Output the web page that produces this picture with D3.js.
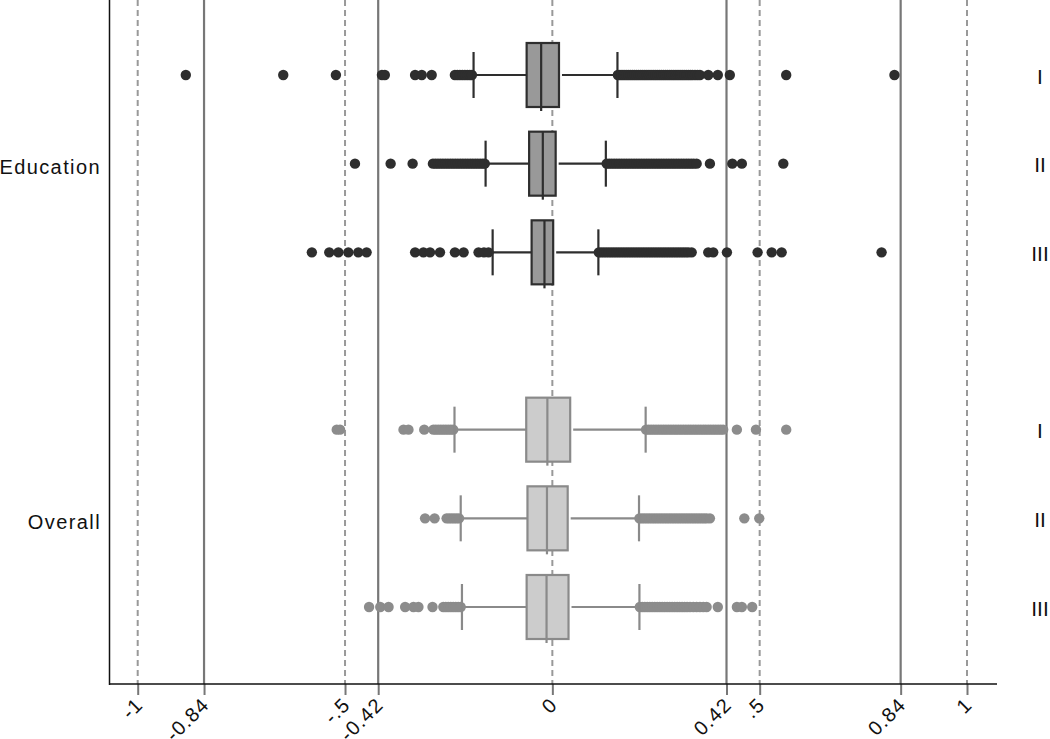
<!DOCTYPE html>
<html>
<head>
<meta charset="utf-8">
<script src="https://cdn.jsdelivr.net/npm/d3@7"></script>
<style>
  html, body { margin: 0; padding: 0; background: #fff; }
  svg { display: block; font-family: "Liberation Sans", Arial, sans-serif; }
</style>
</head>
<body>
<div id="chart"></div>
<script>
// ---------------- data ----------------
const groups = ["Education", "Overall"];
const subgroups = ["I", "II", "III"];
const slots = [0, 1, 2, 4, 5, 6];            // row slot of each box (slot 3 is the gap)
const boxGroup = [0, 0, 0, 1, 1, 1];
const boxLabel = ["I", "II", "III", "I", "II", "III"];

const whiskerLow  = [-0.190, -0.161, -0.144, -0.236, -0.221, -0.218];
const q1          = [-0.062, -0.056, -0.050, -0.063, -0.060, -0.062];
const median      = [-0.027, -0.023, -0.019, -0.012, -0.013, -0.014];
const q3          = [ 0.016,  0.008,  0.002,  0.043,  0.037,  0.039];
const whiskerHigh = [ 0.157,  0.129,  0.111,  0.225,  0.209,  0.210];

const outliersEduI = [-0.884, -0.649, -0.522, -0.411, -0.404, -0.331, -0.315, -0.291,
  -0.235, -0.229, -0.223, -0.217, -0.211, -0.205, -0.199, -0.194,
  0.158, 0.163, 0.168, 0.173, 0.178, 0.183, 0.188, 0.193, 0.198, 0.203, 0.208, 0.213,
  0.218, 0.223, 0.228, 0.233, 0.238, 0.243, 0.248, 0.253, 0.258, 0.263, 0.268, 0.273,
  0.278, 0.283, 0.288, 0.293, 0.298, 0.303, 0.308, 0.313, 0.318, 0.323, 0.328, 0.333,
  0.338, 0.344, 0.350, 0.356, 0.376, 0.399, 0.428, 0.564, 0.825];
const outliersEduII = [-0.476, -0.390, -0.337,
  -0.288, -0.282, -0.276, -0.270, -0.264, -0.258, -0.252, -0.246, -0.240, -0.234,
  -0.228, -0.222, -0.216, -0.210, -0.204, -0.198, -0.192, -0.186, -0.180, -0.174,
  -0.168, -0.163,
  0.131, 0.137, 0.143, 0.149, 0.155, 0.161, 0.167, 0.173, 0.179, 0.185, 0.191, 0.197,
  0.203, 0.209, 0.215, 0.221, 0.227, 0.233, 0.239, 0.245, 0.251, 0.257, 0.263, 0.269,
  0.275, 0.281, 0.287, 0.293, 0.299, 0.305, 0.311, 0.317, 0.323, 0.329, 0.335, 0.341,
  0.348, 0.380, 0.434, 0.457, 0.557];
const outliersEduIII = [-0.580, -0.538, -0.516, -0.492, -0.468, -0.448,
  -0.331, -0.311, -0.295, -0.271, -0.235, -0.214, -0.178, -0.165, -0.154,
  0.112, 0.118, 0.124, 0.130, 0.136, 0.142, 0.148, 0.154, 0.160, 0.166, 0.172, 0.178,
  0.184, 0.190, 0.196, 0.202, 0.208, 0.214, 0.220, 0.226, 0.232, 0.238, 0.244, 0.250,
  0.256, 0.262, 0.268, 0.274, 0.280, 0.286, 0.292, 0.298, 0.304, 0.310, 0.316, 0.322,
  0.328, 0.336, 0.376, 0.388, 0.421, 0.495, 0.529, 0.553, 0.794];
const outliersOvI = [-0.520, -0.512, -0.359, -0.347, -0.309,
  -0.287, -0.281, -0.275, -0.269, -0.263, -0.257, -0.251, -0.245, -0.239,
  0.226, 0.232, 0.238, 0.244, 0.250, 0.256, 0.262, 0.268, 0.274, 0.280, 0.286, 0.292,
  0.298, 0.304, 0.310, 0.316, 0.322, 0.328, 0.334, 0.340, 0.346, 0.352, 0.358, 0.364,
  0.370, 0.376, 0.382, 0.388, 0.394, 0.400, 0.406, 0.412, 0.445, 0.491, 0.564];
const outliersOvII = [-0.307, -0.284, -0.255, -0.249, -0.243, -0.237, -0.231, -0.225,
  0.210, 0.216, 0.222, 0.228, 0.234, 0.240, 0.246, 0.252, 0.258, 0.264, 0.270, 0.276,
  0.282, 0.288, 0.294, 0.300, 0.306, 0.312, 0.318, 0.324, 0.330, 0.336, 0.342, 0.348,
  0.354, 0.360, 0.366, 0.372, 0.380, 0.463, 0.499];
const outliersOvIII = [-0.442, -0.415, -0.395, -0.355, -0.335, -0.323, -0.289,
  -0.263, -0.257, -0.251, -0.245, -0.239, -0.233, -0.227, -0.221,
  0.211, 0.217, 0.223, 0.229, 0.235, 0.241, 0.247, 0.253, 0.259, 0.265, 0.271, 0.277,
  0.283, 0.289, 0.295, 0.301, 0.307, 0.313, 0.319, 0.325, 0.332, 0.340, 0.348, 0.356,
  0.364, 0.372, 0.399, 0.445, 0.457, 0.482];
const outliers = [outliersEduI, outliersEduII, outliersEduIII, outliersOvI, outliersOvII, outliersOvIII];

const solidRefs  = [-0.84, -0.42, 0.42, 0.84];
const dashedRefs = [-1, -0.5, 0, 0.5, 1];
const tickValues = [-1, -0.84, -0.5, -0.42, 0, 0.42, 0.5, 0.84, 1];
const tickLabels = ["-1", "-0.84", "-.5", "-0.42", "0", "0.42", ".5", "0.84", "1"];

// ---------------- layout ----------------
const W = 1050, H = 739;
const plotLeft = 109.5, plotRight = 997, plotTop = 0, plotBottom = 684;

const x = d3.scaleLinear().domain([-1, 1]).range([137.7, 967]);
const y = d3.scaleLinear().domain([0, 6]).range([75, 607]);
const boxHalf = 32, capHalf = 23, r = 5.2;

const fills   = ["#999999", "#cccccc"];
const strokes = ["#2e2e2e", "#8a8a8a"];
const dots    = ["#2e2e2e", "#8c8c8c"];

const svg = d3.select("#chart").append("svg").attr("width", W).attr("height", H);

// reference lines
svg.append("g").selectAll("line").data(dashedRefs).join("line")
  .attr("x1", d => x(d)).attr("x2", d => x(d))
  .attr("y1", plotTop).attr("y2", plotBottom)
  .attr("stroke", "#999").attr("stroke-width", 2).attr("stroke-dasharray", "6,4");
svg.append("g").selectAll("line").data(solidRefs).join("line")
  .attr("x1", d => x(d)).attr("x2", d => x(d))
  .attr("y1", plotTop).attr("y2", plotBottom)
  .attr("stroke", "#777").attr("stroke-width", 2.2);

// boxes
const idx = d3.range(slots.length);
const bg = svg.append("g").selectAll("g").data(idx).join("g");

bg.append("line") // low whisker
  .attr("x1", i => x(whiskerLow[i])).attr("x2", i => x(q1[i]))
  .attr("y1", i => y(slots[i])).attr("y2", i => y(slots[i]))
  .attr("stroke", i => strokes[boxGroup[i]]).attr("stroke-width", 2.2);
bg.append("line") // high whisker
  .attr("x1", i => x(q3[i]) + 3).attr("x2", i => x(whiskerHigh[i]))
  .attr("y1", i => y(slots[i])).attr("y2", i => y(slots[i]))
  .attr("stroke", i => strokes[boxGroup[i]]).attr("stroke-width", 2.2);

// outliers
bg.each(function(i) {
  d3.select(this).append("g").selectAll("circle").data(outliers[i]).join("circle")
    .attr("cx", d => x(d)).attr("cy", y(slots[i])).attr("r", r)
    .attr("fill", dots[boxGroup[i]]);
});

bg.append("line") // low cap
  .attr("x1", i => x(whiskerLow[i])).attr("x2", i => x(whiskerLow[i]))
  .attr("y1", i => y(slots[i]) - capHalf).attr("y2", i => y(slots[i]) + capHalf)
  .attr("stroke", i => strokes[boxGroup[i]]).attr("stroke-width", 2.2);
bg.append("line") // high cap
  .attr("x1", i => x(whiskerHigh[i])).attr("x2", i => x(whiskerHigh[i]))
  .attr("y1", i => y(slots[i]) - capHalf).attr("y2", i => y(slots[i]) + capHalf)
  .attr("stroke", i => strokes[boxGroup[i]]).attr("stroke-width", 2.2);

bg.append("rect")
  .attr("x", i => x(q1[i])).attr("width", i => x(q3[i]) - x(q1[i]))
  .attr("y", i => y(slots[i]) - boxHalf).attr("height", boxHalf * 2)
  .attr("fill", i => fills[boxGroup[i]])
  .attr("stroke", i => strokes[boxGroup[i]]).attr("stroke-width", 2.2);
bg.append("line") // median
  .attr("x1", i => x(median[i])).attr("x2", i => x(median[i]))
  .attr("y1", i => y(slots[i]) - boxHalf).attr("y2", i => y(slots[i]) + boxHalf + 4)
  .attr("stroke", i => strokes[boxGroup[i]]).attr("stroke-width", 2.2);

// right labels
svg.append("g").selectAll("text").data(idx).join("text")
  .attr("x", 1040).attr("y", i => y(slots[i]) + 1)
  .attr("dy", "0.36em").attr("text-anchor", "middle")
  .attr("font-size", 21).attr("fill", "#111")
  .text(i => boxLabel[i]);

// group labels on the left
const groupSlot = [1, 5];
svg.append("g").selectAll("text").data(groups).join("text")
  .attr("x", 101).attr("y", (g, k) => y(groupSlot[k]) + 10.5)
  .attr("text-anchor", "end").attr("font-size", 20).attr("letter-spacing", 1.4)
  .attr("fill", "#111")
  .text(d => d);

// axes
svg.append("line").attr("x1", plotLeft).attr("x2", plotLeft)
  .attr("y1", plotTop).attr("y2", plotBottom + 1).attr("stroke", "#111").attr("stroke-width", 1.5);

const xAxis = d3.axisBottom(x).tickValues(tickValues)
  .tickFormat((d, k) => tickLabels[k]).tickSize(11).tickSizeOuter(0);
const ax = svg.append("g").attr("transform", `translate(0, ${plotBottom})`).call(xAxis);
ax.attr("font-size", 20).attr("font-family", "Liberation Sans, Arial, sans-serif");
ax.select(".domain").remove();
ax.selectAll(".tick line").attr("stroke", "#777").attr("stroke-width", 2);
ax.selectAll(".tick text")
  .style("font-size", "20px").attr("letter-spacing", 1.2).attr("fill", "#111")
  .attr("text-anchor", "end")
  .attr("transform", "translate(1, 17) rotate(-45)")
  .attr("y", 0).attr("x", 0).attr("dy", "0.35em");
svg.append("line").attr("x1", plotLeft).attr("x2", plotRight)
  .attr("y1", plotBottom).attr("y2", plotBottom).attr("stroke", "#111").attr("stroke-width", 1.5);
</script>
</body>
</html>
